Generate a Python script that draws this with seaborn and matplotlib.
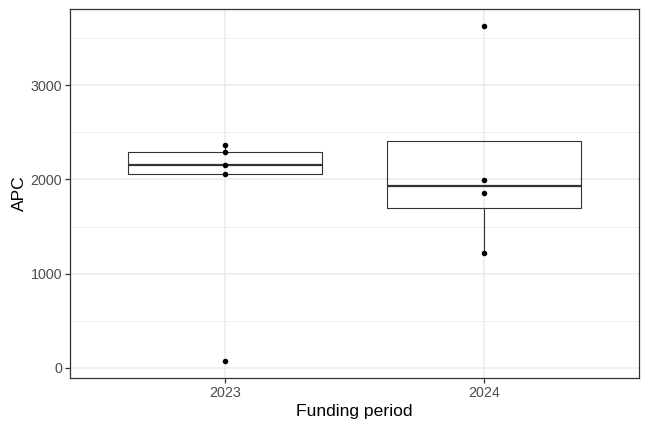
import matplotlib
matplotlib.use("Agg")
import matplotlib.pyplot as plt
import seaborn as sns
import pandas as pd
from matplotlib.ticker import MultipleLocator

periods = ["2023"] * 5 + ["2024"] * 4
apc = [70, 2055, 2156, 2288, 2362, 1218, 1861, 1999, 3629]
order = ["2023", "2024"]
yticks = [0, 1000, 2000, 3000]

df = pd.DataFrame({"Funding period": periods, "APC": apc})

sns.set_theme(style="white")
plt.rcParams["font.family"] = ["Liberation Sans", "DejaVu Sans"]

fig = plt.figure(figsize=(6.48, 4.32), dpi=100)
ax = fig.add_axes([70 / 648, 54 / 432, 569 / 648, 369 / 432])

line_c = "#333333"
sns.boxplot(data=df, x="Funding period", y="APC", order=order, ax=ax,
            width=0.75, showfliers=False, fill=False, color=line_c,
            linewidth=0.8, whis=1.5,
            medianprops=dict(color=line_c, linewidth=1.6),
            whiskerprops=dict(color=line_c), capprops=dict(visible=False),
            zorder=3)
sns.stripplot(data=df, x="Funding period", y="APC", order=order, ax=ax,
              jitter=False, color="black", size=4, zorder=4)

ax.set_xlim(-0.6, 1.6)
ax.set_ylim(-108, 3810)
ax.set_yticks(yticks)
ax.yaxis.set_minor_locator(MultipleLocator(500))
ax.set_facecolor("white")
ax.grid(True, which="major", color="#EBEBEB", linewidth=1.1, zorder=0)
ax.grid(True, which="minor", axis="y", color="#EBEBEB", linewidth=0.55, zorder=0)
ax.set_axisbelow(True)
for s in ax.spines.values():
    s.set_visible(True)
    s.set_color(line_c)
    s.set_linewidth(0.9)
ax.tick_params(axis="both", which="major", length=3.5, width=0.9, color=line_c,
               labelsize=10.3, labelcolor="#4D4D4D", pad=2, bottom=True, left=True)
ax.tick_params(axis="both", which="minor", length=0)
ax.set_xlabel("Funding period", fontsize=12.6, color="black", labelpad=3)
ax.set_ylabel("APC", fontsize=12.6, color="black", labelpad=3)

fig.savefig("out.png", dpi=100)
